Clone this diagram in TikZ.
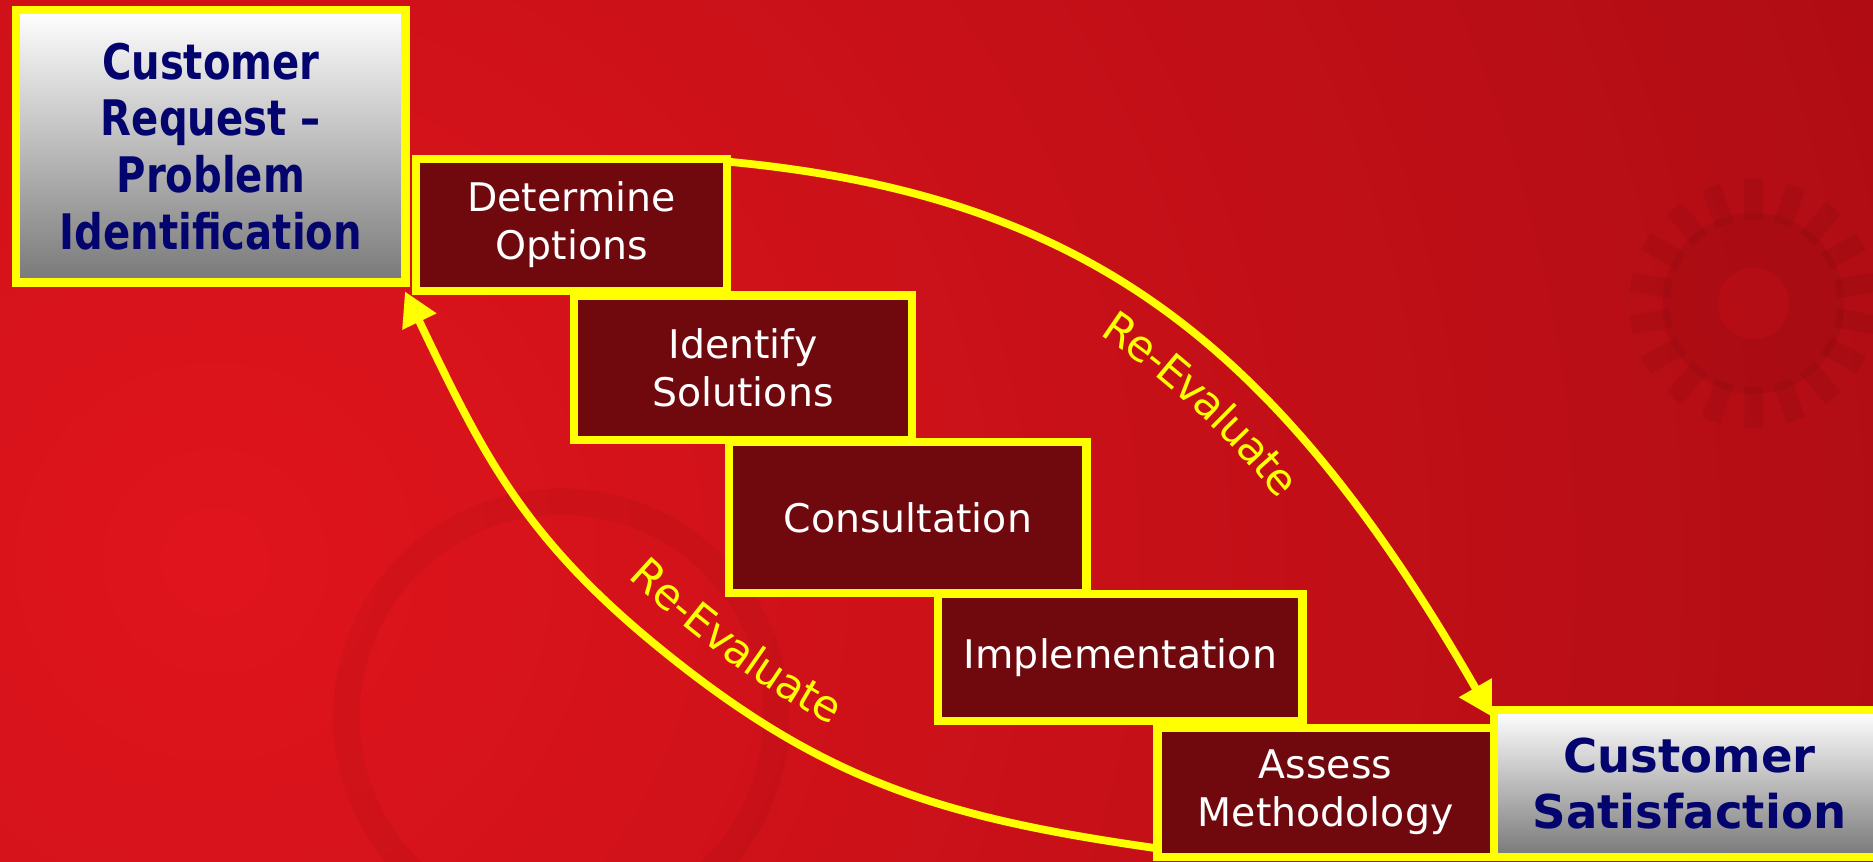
\documentclass[tikz,border=0pt]{standalone}
\usepackage{fontspec}
\setmainfont{DejaVu Sans}
\newfontfamily\headfont[FakeStretch=0.82]{DejaVu Sans}
\usetikzlibrary{arrows.meta,decorations.text}

\definecolor{signyellow}{RGB}{255,255,0}
\definecolor{stepfill}{RGB}{112,9,13}
\definecolor{headnavy}{RGB}{4,4,110}
\definecolor{boxgray}{RGB}{120,120,120}
\definecolor{bgbright}{RGB}{224,20,28}
\definecolor{bgdeep}{RGB}{168,11,19}

\newcommand\stepsize{\fontsize{33}{40}\selectfont}
\newcommand\headsize{\headfont\bfseries\fontsize{41}{47.5}\selectfont}
\newcommand\goalsize{\bfseries\fontsize{39}{47}\selectfont}
\newcommand\loopsize{\fontsize{36}{40}\selectfont}

\begin{document}
\begin{tikzpicture}[x=1pt,y=-1pt,
  stepbox/.style={draw=signyellow, line width=7pt, fill=stepfill, text=white,
    font=\stepsize, align=center, inner sep=0pt},
  headbox/.style={draw=signyellow, line width=7pt, top color=white,
    bottom color=boxgray, text=headnavy, font=\headsize, align=center, inner sep=0pt},
  loopline/.style={draw=signyellow, line width=6.5pt,
    -{Triangle[length=28pt,width=30pt]}},
  loopword/.style={decorate, decoration={text along path,
    text={|\loopsize|Re-Evaluate}, text color=signyellow, #1}},
]
\useasboundingbox (0,0) rectangle (1568,721);

% red backdrop, brightest on the left
\begin{scope}
  \clip (0,0) rectangle (1568,721);
  \shade[inner color=bgbright, outer color=bgdeep] (180,470) circle (1700);
  % faint gear in the upper right
  \begin{scope}[opacity=0.05]
    \fill[black, even odd rule] (1468,254) circle (76) (1468,254) circle (30);
    \foreach \a in {0,20,...,340}
      \fill[black, rotate around={\a:(1468,254)}] (1460,150) rectangle (1476,184);
  \end{scope}
  % faint wheel rim on the left
  \draw[black, opacity=0.04, line width=22pt] (470,600) circle (180);
\end{scope}

% end points of the process
\node[headbox, minimum width=326pt, minimum height=228pt] (cr) at (176.5,122.5)
  {Customer\\Request –\\Problem\\Identification};
\node[headbox, font=\goalsize, minimum width=327.5pt, minimum height=123pt] (cs)
  at (1414.25,656) {Customer\\Satisfaction};

% the staircase of steps
\node[stepbox, minimum width=260pt, minimum height=110.5pt] (do) at (478.5,188.25)
  {Determine\\Options};
\node[stepbox, minimum width=283pt, minimum height=121pt] (is) at (622,308)
  {Identify\\Solutions};
\node[stepbox, minimum width=299pt, minimum height=126.5pt] (co) at (760,433.25)
  {Consultation};
\node[stepbox, minimum width=305pt, minimum height=106pt] (im) at (938,550.5)
  {Implementation};
\node[stepbox, minimum width=281.5pt, minimum height=108pt] (am) at (1109.75,663.5)
  {Assess\\Methodology};

% arrow ends
\coordinate (upS) at ([xshift=-1pt,yshift=-6pt]do.north east);
\coordinate (upE) at ([xshift=2pt,yshift=-9pt]cs.north west);
\coordinate (loS) at ([xshift=2pt,yshift=11pt]am.south west);
\coordinate (loE) at ([xshift=-4pt,yshift=-4pt]cr.south east);
\coordinate (loM) at (543,535);

% feedback loops
\draw[loopline] (upS) .. controls (910,164) and (1069,287) .. (upE);
\draw[loopline] (loS) .. controls (785,684) and (685,653) .. (loM)
  .. controls (434,444) and (401,373) .. (loE);

\path[loopword={text align={center, left indent=100pt}, raise=-47pt}]
  (upS) .. controls (910,164) and (1069,287) .. (upE);
\path[loopword={text align={center, left indent=15pt}, raise=27pt}]
  (loE) .. controls (401,373) and (434,444) .. (loM)
  .. controls (685,653) and (785,684) .. (loS);
\end{tikzpicture}
\end{document}
